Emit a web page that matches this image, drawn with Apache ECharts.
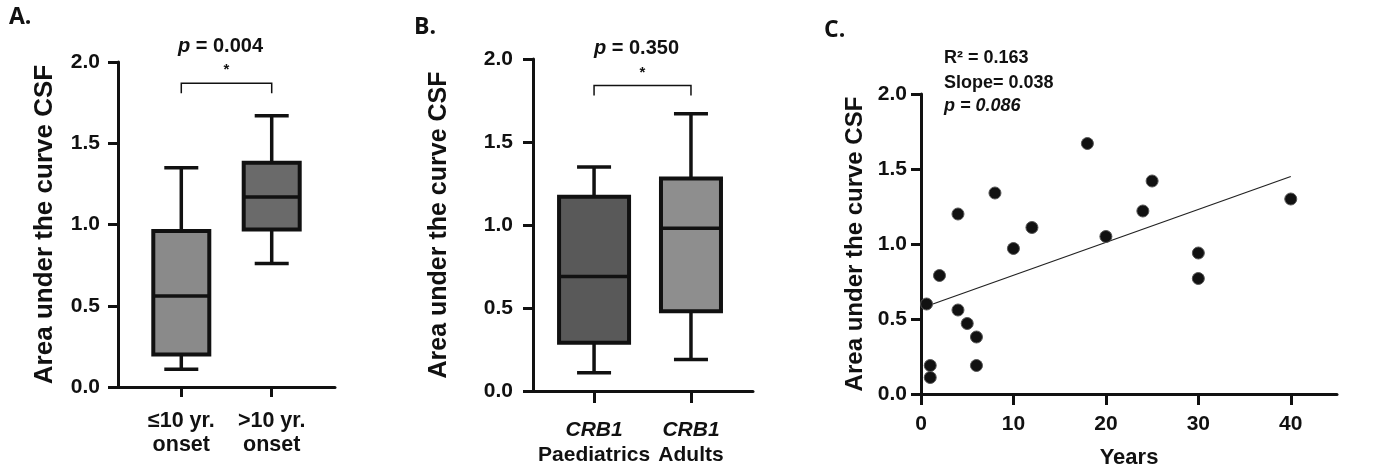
<!DOCTYPE html>
<html>
<head>
<meta charset="utf-8">
<script src="https://cdn.jsdelivr.net/npm/echarts@6/dist/echarts.min.js"></script>
<style>
html,body{margin:0;padding:0;background:#fff;}
#c{width:1382px;height:476px;}
</style>
</head>
<body>
<div id="c"></div>
<script>
// ---------- data ----------
const yTicks = [0, 0.5, 1.0, 1.5, 2.0];
const yAxisTitle = 'Area under the curve CSF';

const catsA = ['≤10 yr.', '>10 yr.'];
const catsA2 = ['onset', 'onset'];
// [min, Q1, median, Q3, max]
const boxA = [
  [0.11, 0.20, 0.56, 0.96, 1.35],
  [0.76, 0.97, 1.17, 1.38, 1.67]
];
const pTextA = '0.004';

const catsB = ['CRB1', 'CRB1'];
const catsB2 = ['Paediatrics', 'Adults'];
const boxB = [
  [0.11, 0.29, 0.69, 1.17, 1.35],
  [0.19, 0.48, 0.98, 1.28, 1.67]
];
const pTextB = '0.350';

const yearsC = [0.6, 1, 1, 2, 4, 4, 5, 6, 6, 8, 10, 12, 18, 20, 24, 25, 30, 30, 40];
const aucC   = [0.60, 0.19, 0.11, 0.79, 1.20, 0.56, 0.47, 0.38, 0.19, 1.34, 0.97, 1.11, 1.67, 1.05, 1.22, 1.42, 0.94, 0.77, 1.30];
const fitC = [[0.6, 0.585], [40, 1.45]];
const xTicksC = [0, 10, 20, 30, 40];
const statsC = ['R² = 0.163', 'Slope= 0.038', '0.086'];

// ---------- styling ----------
const FONT = 'Liberation Sans, Arial, sans-serif';
const boxFillA = ['#8a8a8a', '#6a6a6a'];
const boxFillB = ['#595959', '#8e8e8e'];
const boxPxA = [56, 56];
const boxPxB = [70, 60];

function yAxisCfg(gridIndex, nameGap, labelMargin, nameSize) {
  return {
    type: 'value', gridIndex, min: 0, max: 2, interval: 0.5,
    name: yAxisTitle, nameLocation: 'middle', nameGap,
    nameTextStyle: { fontFamily: FONT, fontSize: nameSize, fontWeight: 'bold', color: '#111' },
    axisLine: { show: true, lineStyle: { color: '#111', width: 3 } },
    axisTick: { show: true, length: 10, lineStyle: { color: '#111', width: 3 } },
    axisLabel: { margin: labelMargin, fontFamily: FONT, fontSize: 21, fontWeight: 'bold', color: '#111',
      formatter: v => v.toFixed(1) },
    splitLine: { show: false }
  };
}

function boxSeries(xAxisIndex, yAxisIndex, vals, fills, widths) {
  return {
    type: 'custom', xAxisIndex, yAxisIndex, z: 5,
    data: vals.map((v, i) => [i + 1].concat(v)),
    renderItem: function (params, api) {
      const i = params.dataIndex;
      const x = api.value(0);
      const pMin = api.coord([x, api.value(1)]);
      const pQ1 = api.coord([x, api.value(2)]);
      const pMed = api.coord([x, api.value(3)]);
      const pQ3 = api.coord([x, api.value(4)]);
      const pMax = api.coord([x, api.value(5)]);
      const cx = pMin[0];
      const hw = widths[i] / 2;
      const cap = 17;
      const ls = { stroke: '#111', lineWidth: 3.5 };
      return {
        type: 'group',
        children: [
          { type: 'line', shape: { x1: cx, y1: pMin[1], x2: cx, y2: pQ1[1] }, style: ls },
          { type: 'line', shape: { x1: cx, y1: pQ3[1], x2: cx, y2: pMax[1] }, style: ls },
          { type: 'line', shape: { x1: cx - cap, y1: pMin[1], x2: cx + cap, y2: pMin[1] }, style: ls },
          { type: 'line', shape: { x1: cx - cap, y1: pMax[1], x2: cx + cap, y2: pMax[1] }, style: ls },
          { type: 'rect', shape: { x: cx - hw, y: pQ3[1], width: hw * 2, height: pQ1[1] - pQ3[1] },
            style: { fill: fills[i], stroke: '#111', lineWidth: 4 } },
          { type: 'line', shape: { x1: cx - hw, y1: pMed[1], x2: cx + hw, y2: pMed[1] }, style: ls }
        ]
      };
    }
  };
}

function bracketSeries(xAxisIndex, yAxisIndex, yVal, pText) {
  return {
    type: 'custom', xAxisIndex, yAxisIndex, z: 6, clip: false,
    data: [[1, 2, yVal]],
    renderItem: function (params, api) {
      const a = api.coord([api.value(0), api.value(2)]);
      const b = api.coord([api.value(1), api.value(2)]);
      const mid = (a[0] + b[0]) / 2;
      return {
        type: 'group',
        children: [
          { type: 'polyline', shape: { points: [[a[0], a[1] + 10], [a[0], a[1]], [b[0], b[1]], [b[0], b[1] + 10]] },
            style: { fill: null, stroke: '#111', lineWidth: 1.5 } },
          { type: 'text', x: mid, y: a[1] - 13,
            style: { text: '*', fontSize: 15, fontWeight: 'bold', fontFamily: FONT, fill: '#111', align: 'center', verticalAlign: 'middle' } },
          { type: 'text', x: mid - 6, y: a[1] - 37,
            style: { text: '{i|p} = ' + pText, align: 'center', verticalAlign: 'middle',
              rich: { i: { fontStyle: 'italic', fontWeight: 'bold', fontSize: 20, fontFamily: FONT, fill: '#111' } },
              fontSize: 20, fontWeight: 'bold', fontFamily: FONT, fill: '#111' } }
        ]
      };
    }
  };
}

const chart = echarts.init(document.getElementById('c'), null, { renderer: 'canvas' });

const option = {
  backgroundColor: '#fff',
  animation: false,
  graphic: [
    { type: 'text', left: 9, top: 6, style: { text: 'A.', fontFamily: 'Open Sans, sans-serif', fontSize: 23, fontWeight: 'bold', fill: '#111' } },
    { type: 'text', left: 414, top: 16, style: { text: 'B.', fontFamily: 'Open Sans, sans-serif', fontSize: 23, fontWeight: 'bold', fill: '#111' } },
    { type: 'text', left: 824, top: 19, style: { text: 'C.', fontFamily: 'Open Sans, sans-serif', fontSize: 23, fontWeight: 'bold', fill: '#111' } },
    { type: 'text', left: 944, top: 49, style: { text: statsC[0], fontFamily: FONT, fontSize: 18, fontWeight: 'bold', fill: '#111' } },
    { type: 'text', left: 944, top: 74, style: { text: statsC[1], fontFamily: FONT, fontSize: 18, fontWeight: 'bold', fill: '#111' } },
    { type: 'text', left: 944, top: 97, style: { text: '{i|p = ' + statsC[2] + '}',
      rich: { i: { fontFamily: FONT, fontSize: 18, fontWeight: 'bold', fontStyle: 'italic', fill: '#111' } } } }
  ],
  grid: [
    { left: 118, top: 62, width: 217, height: 325 },
    { left: 533, top: 59, width: 220, height: 332 },
    { left: 921, top: 94, width: 416, height: 300 }
  ],
  xAxis: [
    {
      type: 'value', gridIndex: 0, min: 0.3, max: 2.7,
      axisLine: { show: true, onZero: false, lineStyle: { color: '#111', width: 3 } },
      axisTick: { show: true, length: 10, customValues: [1, 2], lineStyle: { color: '#111', width: 3 } },
      axisLabel: { margin: 22, customValues: [1, 2], lineHeight: 24, fontFamily: FONT, fontSize: 21.5, fontWeight: 'bold', color: '#111',
        formatter: v => catsA[Math.round(v) - 1] + '\n' + catsA2[Math.round(v) - 1] },
      splitLine: { show: false }
    },
    {
      type: 'value', gridIndex: 1, min: 0.37, max: 2.64,
      axisLine: { show: true, onZero: false, lineStyle: { color: '#111', width: 3 } },
      axisTick: { show: true, length: 12, customValues: [1, 2], lineStyle: { color: '#111', width: 3 } },
      axisLabel: { margin: 27, customValues: [1, 2], fontFamily: FONT, fontSize: 21, fontWeight: 'bold', color: '#111',
        formatter: v => '{i|' + catsB[Math.round(v) - 1] + '}\n{n|' + catsB2[Math.round(v) - 1] + '}',
        rich: {
          i: { fontFamily: FONT, fontSize: 21, fontWeight: 'bold', fontStyle: 'italic', color: '#111', lineHeight: 25 },
          n: { fontFamily: FONT, fontSize: 21, fontWeight: 'bold', color: '#111', lineHeight: 25 }
        } },
      splitLine: { show: false }
    },
    {
      type: 'value', gridIndex: 2, min: 0, max: 45, interval: 10,
      name: 'Years', nameLocation: 'middle', nameGap: 53,
      nameTextStyle: { fontFamily: FONT, fontSize: 22, fontWeight: 'bold', color: '#111' },
      axisLine: { show: true, onZero: false, lineStyle: { color: '#111', width: 3 } },
      axisTick: { show: true, length: 11, customValues: xTicksC, lineStyle: { color: '#111', width: 3 } },
      axisLabel: { margin: 20, customValues: xTicksC, fontFamily: FONT, fontSize: 21, fontWeight: 'bold', color: '#111' },
      splitLine: { show: false }
    }
  ],
  yAxis: [
    yAxisCfg(0, 60, 18, 26),
    yAxisCfg(1, 81, 20, 25),
    yAxisCfg(2, 54, 14, 24)
  ],
  series: [
    boxSeries(0, 0, boxA, boxFillA, boxPxA),
    bracketSeries(0, 0, 1.87, pTextA),
    boxSeries(1, 1, boxB, boxFillB, boxPxB),
    bracketSeries(1, 1, 1.84, pTextB),
    {
      type: 'line', xAxisIndex: 2, yAxisIndex: 2, data: fitC, symbol: 'none', z: 3,
      lineStyle: { color: '#222', width: 1.3 }
    },
    {
      type: 'scatter', xAxisIndex: 2, yAxisIndex: 2, z: 5, symbolSize: 12,
      data: yearsC.map((x, i) => [x, aucC[i]]),
      itemStyle: { color: '#111', borderColor: '#555', borderWidth: 1, opacity: 1 }
    }
  ]
};
chart.setOption(option);
</script>
</body>
</html>
